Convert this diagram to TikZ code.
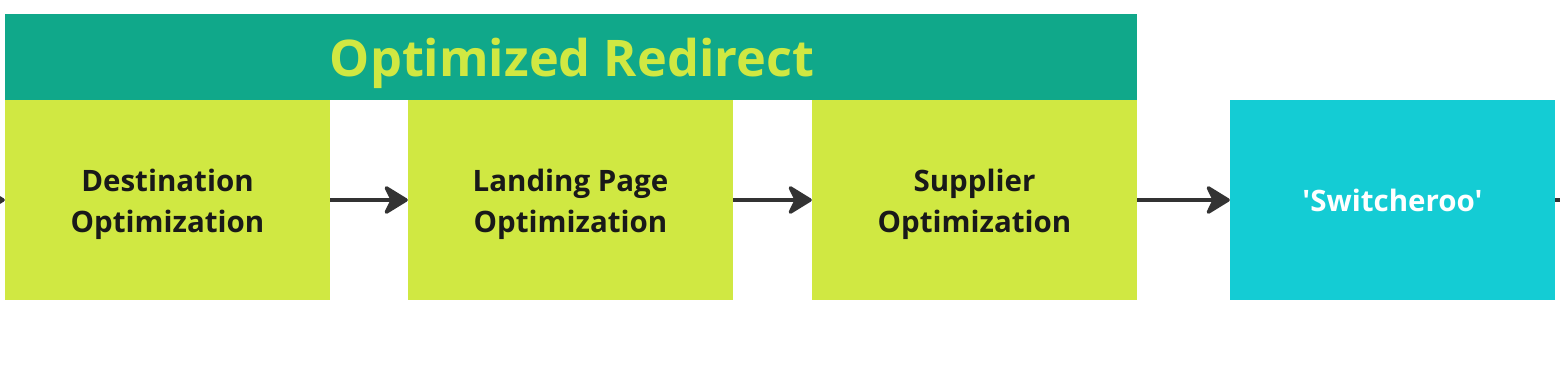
\documentclass[tikz,border=0pt]{standalone}
\usepackage{fontspec}
\setmainfont{Open Sans}
\newfontfamily\rawfont{Open Sans}
\usetikzlibrary{arrows.meta}
\definecolor{hdr}{HTML}{10A88A}
\definecolor{lime}{HTML}{D0E842}
\definecolor{cyanbox}{HTML}{14CCD4}
\definecolor{arr}{HTML}{333333}
\tikzset{
  stagebox/.style={fill=lime, draw=none, minimum width=325pt, minimum height=200pt, inner sep=0pt},
  stagetext/.style={align=center, inner sep=0pt, font=\fontsize{29.5}{41}\selectfont\bfseries, text=black!90},
  flow/.style={draw=arr, line width=3.5pt, -{Stealth[length=27pt,width=33pt,inset=8pt,round]}},
}
\begin{document}
\begin{tikzpicture}[x=1pt,y=-1pt]
\useasboundingbox (0,0) rectangle (1560,370);
\fill[white] (0,0) rectangle (1560,370);
\node[fill=hdr, minimum width=1132pt, minimum height=86pt, inner sep=0pt] (hdr) at (571,57) {};
\node[text=lime, inner sep=0pt, font=\fontsize{50.5}{54}\selectfont\bfseries] (hdrtext) at (572,63) {Optimized Redirect};
\node[stagebox] (b1) at (167.5,200) {};
\node[stagebox] (b2) at (570.5,200) {};
\node[stagebox] (b3) at (974.5,200) {};
\node[stagebox, fill=cyanbox] (b4) at (1392.5,200) {};
\node[stagetext] (t1) at ([yshift=-4pt]b1.center) {Destination\\Optimization};
\node[stagetext] (t2) at ([yshift=-4pt]b2.center) {Landing Page\\Optimization};
\node[stagetext] (t3) at ([yshift=-4pt]b3.center) {Supplier\\Optimization};
\node[stagetext, text=white] (t4) at (b4.center) {\rawfont\bfseries 'Switcheroo'};
\coordinate (lin) at (-30,200);
\coordinate (rout) at (1590,200);
\draw[flow] (lin) -- (b1.west);
\draw[flow] (b1.east) -- (b2.west);
\draw[flow] (b2.east) -- (b3.west);
\draw[flow] (b3.east) -- (b4.west);
\draw[draw=arr, line width=3.5pt] (b4.east) -- (rout);
\end{tikzpicture}
\end{document}
